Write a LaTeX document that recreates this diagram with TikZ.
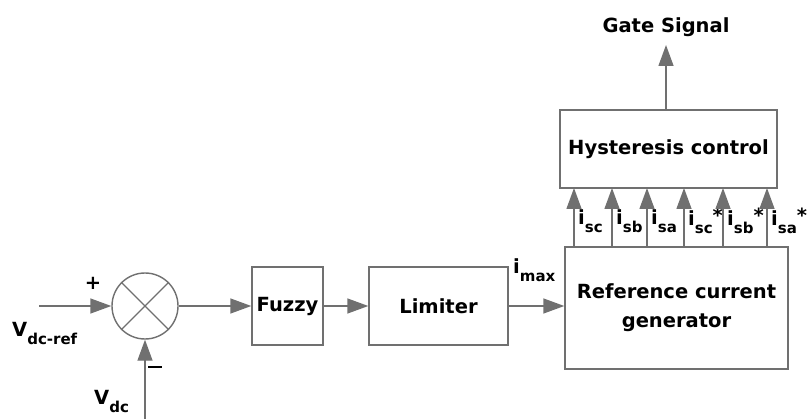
\documentclass[tikz,border=0pt]{standalone}
\usepackage{fontspec}
\setmainfont{DejaVu Sans}
\usetikzlibrary{arrows.meta}

\definecolor{linegray}{RGB}{112,112,112}
\newcommand\lowsub[1]{\raisebox{-8pt}{\fontsize{15}{15}\selectfont #1}}
\newcommand\highstar{\raisebox{3pt}{*}}

\begin{document}
\begin{tikzpicture}[x=1pt,y=-1pt,
	block/.style={draw=linegray,line width=1.4pt,inner sep=0pt},
	arr/.style={draw=linegray,line width=1.4pt,-{Triangle[length=21pt,width=15pt]}},
	wire/.style={draw=linegray,line width=1.4pt},
	lbl/.style={inner sep=0pt},
	sig/.style={inner sep=0pt,anchor=west}]
	\useasboundingbox (0,0) rectangle (808,419);
	\begin{scope}[node font=\fontsize{19.5}{29}\selectfont\bfseries]
		% blocks
		\node[block,circle,minimum size=66pt] (sum) at (145,306) {};
		\node[block,minimum width=71pt,minimum height=78pt] (fuzzy) at (287.5,306) {Fuzzy};
		\node[block,minimum width=139pt,minimum height=78pt] (lim) at (438.5,306) {Limiter};
		\node[block,minimum width=223pt,minimum height=122pt,align=center] (ref) at (676.5,308) {Reference current\\generator};
		\node[block,minimum width=217pt,minimum height=78pt] (hyst) at (668.5,149) {Hysteresis control};
		\node[lbl] (gate) at (666,27) {Gate Signal};
		
		% inputs
		\coordinate (vin) at (39,306);
		\coordinate (vdcin) at (145,419);
		\coordinate (gtip) at (666,45);
		\node[sig] (vref) at (12,333) {V\lowsub{dc-ref}};
		\node[sig] (vdc) at (94,401) {V\lowsub{dc}};
		\node[lbl] (plus) at (93,283) {+};
		\node[lbl] (minus) at (155,367) {\rule{14pt}{2.5pt}};
		\node[sig] (imax) at (513,270) {i\lowsub{max}};
	\end{scope}
	
	\draw (sum.north west) edge[wire] (sum.south east);
	\draw (sum.north east) edge[wire] (sum.south west);
	
	\path (vin) edge[arr] (sum.west);
	\path (vdcin) edge[arr] (sum.south);
	\path (sum.east) edge[arr] (fuzzy.west);
	\path (fuzzy.east) edge[arr] (lim.west);
	\path (lim.east) edge[arr] (lim.east -| ref.west);
	\path (hyst.north -| gtip) edge[arr] (gtip);
	
	% current references
	\foreach \x/\name in {574/i\lowsub{sc}, 612/i\lowsub{sb}, 647/i\lowsub{sa},
		684/i\lowsub{sc}\highstar, 723/i\lowsub{sb}\highstar, 767/i\lowsub{sa}\highstar} {
		\coordinate (b\x) at (\x,247);
		\coordinate (t\x) at (\x,188);
		\path (b\x) edge[arr] (t\x);
		\node[sig,font=\fontsize{19.5}{22}\selectfont\bfseries] (l\x) at (\x+4,221) {\name};
	}
\end{tikzpicture}
\end{document}
